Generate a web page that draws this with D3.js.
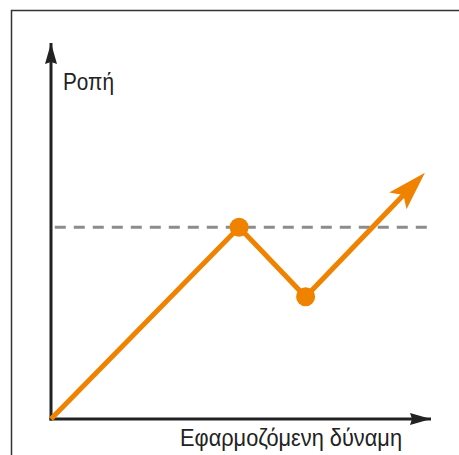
<!DOCTYPE html>
<html>
<head>
<meta charset="utf-8">
<script src="https://cdn.jsdelivr.net/npm/d3@7"></script>
<style>
  html, body { margin: 0; padding: 0; background: #fff; }
  svg { display: block; }
  text { font-family: "Liberation Sans", Arial, Helvetica, sans-serif; fill: #222; }
</style>
</head>
<body>
<svg id="chart" width="459" height="455"></svg>
<script>
// Torque response to applied force (schematic, arbitrary units 0–100)
const forceValues  = [0, 49.5, 67, 98.4];
const torqueValues = [0, 51, 32.5, 65.5];
const thresholdTorque = 51;
const xAxisLabel = "Εφαρμοζόμενη δύναμη";
const yAxisLabel = "Ροπή";

const W = 459, H = 455;
const svg = d3.select("#chart");

const x = d3.scaleLinear().domain([0, 100]).range([51, 431]);
const y = d3.scaleLinear().domain([0, 100]).range([419, 43]);

const ORANGE = "#ef8200";
const INK = "#222";

// outer frame (runs past the right and bottom edges)
svg.append("path")
  .attr("d", `M11.5,${H + 5} V10.5 H${W + 5}`)
  .attr("fill", "none")
  .attr("stroke", "#333")
  .attr("stroke-width", 1.5);

const defs = svg.append("defs");
defs.append("marker")
  .attr("id", "axisHead")
  .attr("markerUnits", "userSpaceOnUse")
  .attr("viewBox", "-22 -7 23 14")
  .attr("markerWidth", 23).attr("markerHeight", 14)
  .attr("refX", 0).attr("refY", 0)
  .attr("orient", "auto")
  .append("path")
  .attr("d", "M0,0 L-21,-6 L-19,0 L-21,6 Z")
  .attr("fill", INK);

defs.append("marker")
  .attr("id", "curveHead")
  .attr("markerUnits", "userSpaceOnUse")
  .attr("viewBox", "-40 -13 41 26")
  .attr("markerWidth", 41).attr("markerHeight", 26)
  .attr("refX", 0).attr("refY", 0)
  .attr("orient", "auto")
  .append("path")
  .attr("d", "M0,0 L-39,-12 L-31,0 L-39,12 Z")
  .attr("fill", ORANGE);

// threshold (dashed)
svg.append("line")
  .attr("x1", x(1)).attr("x2", x(100))
  .attr("y1", y(thresholdTorque)).attr("y2", y(thresholdTorque))
  .attr("stroke", "#8c8c8c")
  .attr("stroke-width", 3)
  .attr("stroke-dasharray", "11,8");

// axes drawn from the scale ranges, with arrowheads
const [x0, x1] = x.range();
const [y0, y1] = y.range();
svg.append("line")
  .attr("x1", x0 - 1.5).attr("y1", y0).attr("x2", x1).attr("y2", y0)
  .attr("stroke", INK).attr("stroke-width", 3)
  .attr("marker-end", "url(#axisHead)");
svg.append("line")
  .attr("x1", x0).attr("y1", y0 + 1.5).attr("x2", x0).attr("y2", y1)
  .attr("stroke", INK).attr("stroke-width", 3)
  .attr("marker-end", "url(#axisHead)");

// torque curve
const pts = forceValues.map((f, i) => [f, torqueValues[i]]);

// shorten last segment so the stroke ends inside the arrowhead
const last = pts[pts.length - 1], prev = pts[pts.length - 2];
const lx = x(last[0]), ly = y(last[1]), px = x(prev[0]), py = y(prev[1]);
const len = Math.hypot(lx - px, ly - py);
const back = 31;
const endPt = [lx - (lx - px) / len * back, ly - (ly - py) / len * back];

const curvePath = d3.path();
pts.slice(0, -1).forEach((p, i) => {
  if (i === 0) curvePath.moveTo(x(p[0]), y(p[1]));
  else curvePath.lineTo(x(p[0]), y(p[1]));
});
curvePath.lineTo(endPt[0], endPt[1]);

svg.append("path")
  .attr("d", curvePath.toString())
  .attr("fill", "none")
  .attr("stroke", ORANGE)
  .attr("stroke-width", 5)
  .attr("stroke-linejoin", "miter");

// arrowhead at the end of the curve
svg.append("line")
  .attr("x1", endPt[0] - (lx - px) / len).attr("y1", endPt[1] - (ly - py) / len)
  .attr("x2", lx).attr("y2", ly)
  .attr("stroke", "none")
  .attr("marker-end", "url(#curveHead)");

// highlighted turning points
svg.selectAll("circle.pt")
  .data(pts.slice(1, 3))
  .join("circle")
  .attr("class", "pt")
  .attr("cx", d => x(d[0]))
  .attr("cy", d => y(d[1]))
  .attr("r", 9.5)
  .attr("fill", ORANGE);

// axis titles (condensed sans)
svg.append("text")
  .attr("x", x0 + 12).attr("y", 90)
  .attr("font-size", 23)
  .attr("textLength", 51)
  .attr("lengthAdjust", "spacingAndGlyphs")
  .text(yAxisLabel);

svg.append("text")
  .attr("x", 180).attr("y", 446)
  .attr("font-size", 23)
  .attr("textLength", 222)
  .attr("lengthAdjust", "spacingAndGlyphs")
  .text(xAxisLabel);
</script>
</body>
</html>
